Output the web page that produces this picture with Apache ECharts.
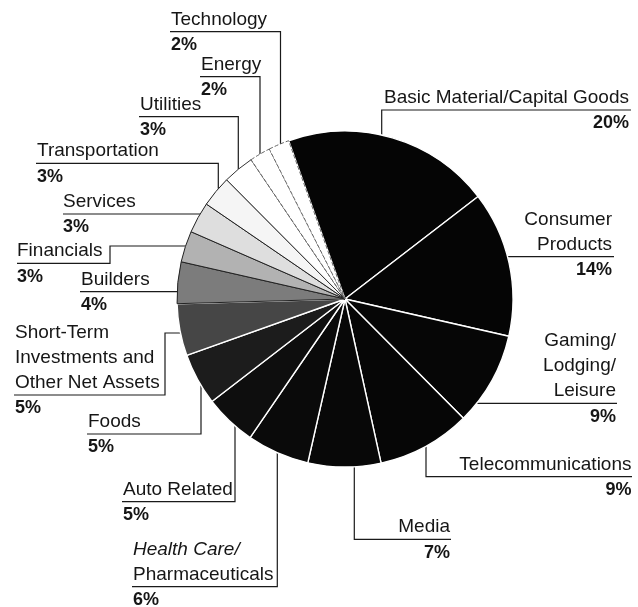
<!DOCTYPE html>
<html><head><meta charset="utf-8">
<script src="https://cdn.jsdelivr.net/npm/echarts@6/dist/echarts.min.js"></script>
<style>html,body{margin:0;padding:0;background:#fff}#c{width:638px;height:607px}</style>
</head><body><div id="c"></div>
<script>
// ---- data ----
const categories = [
  "Basic Material/Capital Goods",
  "Consumer\nProducts",
  "Gaming/\nLodging/\nLeisure",
  "Telecommunications",
  "Media",
  "Health Care/\nPharmaceuticals",
  "Auto Related",
  "Foods",
  "Short-Term\nInvestments and\nOther Net Assets",
  "Builders",
  "Financials",
  "Services",
  "Transportation",
  "Utilities",
  "Energy",
  "Technology"
];
const values = [20, 14, 9, 9, 7, 6, 5, 5, 5, 4, 3, 3, 3, 3, 2, 2];

// ---- styles ----
const sliceColors = ["#050505","#050505","#060606","#060606","#080808","#0a0a0a","#0e0e0e","#1c1c1c",
                     "#464646","#7c7c7c","#b2b2b2","#dedede","#f5f5f5","#ffffff","#ffffff","#ffffff"];
const sliceBorders = [
  ["#ffffff",1.4,"solid"],["#ffffff",1.4,"solid"],["#ffffff",1.4,"solid"],["#ffffff",1.4,"solid"],
  ["#ffffff",1.4,"solid"],["#ffffff",1.4,"solid"],["#ffffff",1.4,"solid"],["#ffffff",1.4,"solid"],
  ["#ffffff",1.4,"solid"],["#222222",1,"solid"],["#222222",1,"solid"],["#222222",1,"solid"],
  ["#222222",1,"solid"],["#333333",1,"solid"],["#666666",1,"dashed"],["#666666",1,"dashed"]
];
const italicFirstLine = [false,false,false,false,false,true,false,false,false,false,false,false,false,false,false,false];

// ---- layout (label anchors & leader geometry) ----
const PIE_CX = 345, PIE_CY = 299, PIE_R = 168;
const labelLayouts = [
  {side:"right", tx:629,   ly:110,   kind:"v",  vx:381.7, end:631},
  {side:"right", tx:612,   ly:256.7, kind:"h",  end:614},
  {side:"right", tx:616,   ly:403.3, kind:"h",  end:617},
  {side:"right", tx:631.5, ly:476.7, kind:"v",  vx:426,   end:632},
  {side:"right", tx:450,   ly:539.3, kind:"v",  vx:354.3, end:451},
  {side:"left",  tx:133,   ly:586.7, kind:"v",  vx:277.3, end:132},
  {side:"left",  tx:123,   ly:501.7, kind:"v",  vx:235,   end:122},
  {side:"left",  tx:88,    ly:434,   kind:"v",  vx:201,   end:87},
  {side:"left",  tx:15,    ly:395,   kind:"hv", hy:333,   vx:165, end:14},
  {side:"left",  tx:81,    ly:291.7, kind:"h",  end:80},
  {side:"left",  tx:17,    ly:263.3, kind:"hv", hy:246,   vx:110, end:17},
  {side:"left",  tx:63,    ly:214,   kind:"h",  end:63},
  {side:"left",  tx:37,    ly:163.3, kind:"v",  vx:218.3, end:36},
  {side:"left",  tx:140,   ly:116.7, kind:"v",  vx:238.3, end:139},
  {side:"left",  tx:201,   ly:76.7,  kind:"v",  vx:260,   end:200},
  {side:"left",  tx:171,   ly:31.7,  kind:"v",  vx:280.5, end:170}
];
const NAME_LH = 25;

function edgeAtX(x, below) {
  const d = Math.sqrt(Math.max(0, PIE_R * PIE_R - (x - PIE_CX) * (x - PIE_CX)));
  return below ? PIE_CY + d : PIE_CY - d;
}
function edgeAtY(y, right) {
  const d = Math.sqrt(Math.max(0, PIE_R * PIE_R - (y - PIE_CY) * (y - PIE_CY)));
  return right ? PIE_CX + d : PIE_CX - d;
}

const FONT = "'Liberation Sans', Arial, sans-serif";
const data = categories.map((name, i) => ({
  name: name,
  value: values[i],
  itemStyle: {
    color: sliceColors[i],
    borderColor: sliceBorders[i][0],
    borderWidth: sliceBorders[i][1],
    borderType: sliceBorders[i][2]
  },
  label: { align: labelLayouts[i].side }
}));

const chart = echarts.init(document.getElementById('c'), null, {renderer: 'canvas'});
chart.setOption({
  animation: false,
  backgroundColor: '#ffffff',
  series: [{
    type: 'pie',
    center: [PIE_CX, PIE_CY],
    radius: [0, PIE_R],
    startAngle: 109.6,
    clockwise: true,
    avoidLabelOverlap: false,
    silent: true,
    data: data,
    label: {
      show: true,
      position: 'outside',
      padding: 0,
      formatter: function (p) {
        const lines = p.name.split('\n');
        const s = lines.map((l, k) => '{' + ((k === 0 && italicFirstLine[p.dataIndex]) ? 'i' : 'n') + '|' + l + '}').join('\n');
        return s + '\n{p|' + p.value + '%}';
      },
      rich: {
        n: {fontFamily: FONT, fontSize: 19, lineHeight: NAME_LH, color: '#161616'},
        i: {fontFamily: FONT, fontSize: 19, lineHeight: NAME_LH, color: '#161616', fontStyle: 'italic'},
        p: {fontFamily: FONT, fontSize: 18, fontWeight: 'bold', lineHeight: 26, color: '#161616'}
      }
    },
    labelLine: {
      show: true,
      length: 10,
      length2: 10,
      lineStyle: {color: '#1a1a1a', width: 1.2}
    },
    labelLayout: function (params) {
      const i = params.dataIndex;
      const L = labelLayouts[i];
      const n = categories[i].split('\n').length;
      const top = L.ly - 24.7 - NAME_LH * (n - 1);
      let pts;
      if (L.kind === 'v') {
        pts = [[L.vx, edgeAtX(L.vx, L.ly > PIE_CY)], [L.vx, L.ly], [L.end, L.ly]];
      } else if (L.kind === 'h') {
        pts = [[edgeAtY(L.ly, L.side === 'right'), L.ly], [L.end, L.ly]];
      } else {
        pts = [[edgeAtY(L.hy, L.side === 'right'), L.hy], [L.vx, L.hy], [L.vx, L.ly], [L.end, L.ly]];
      }
      return {
        x: L.tx,
        y: top,
        align: L.side,
        verticalAlign: 'top',
        hideOverlap: false,
        moveOverlap: null,
        labelLinePoints: pts
      };
    }
  }]
});
</script>
</body></html>
